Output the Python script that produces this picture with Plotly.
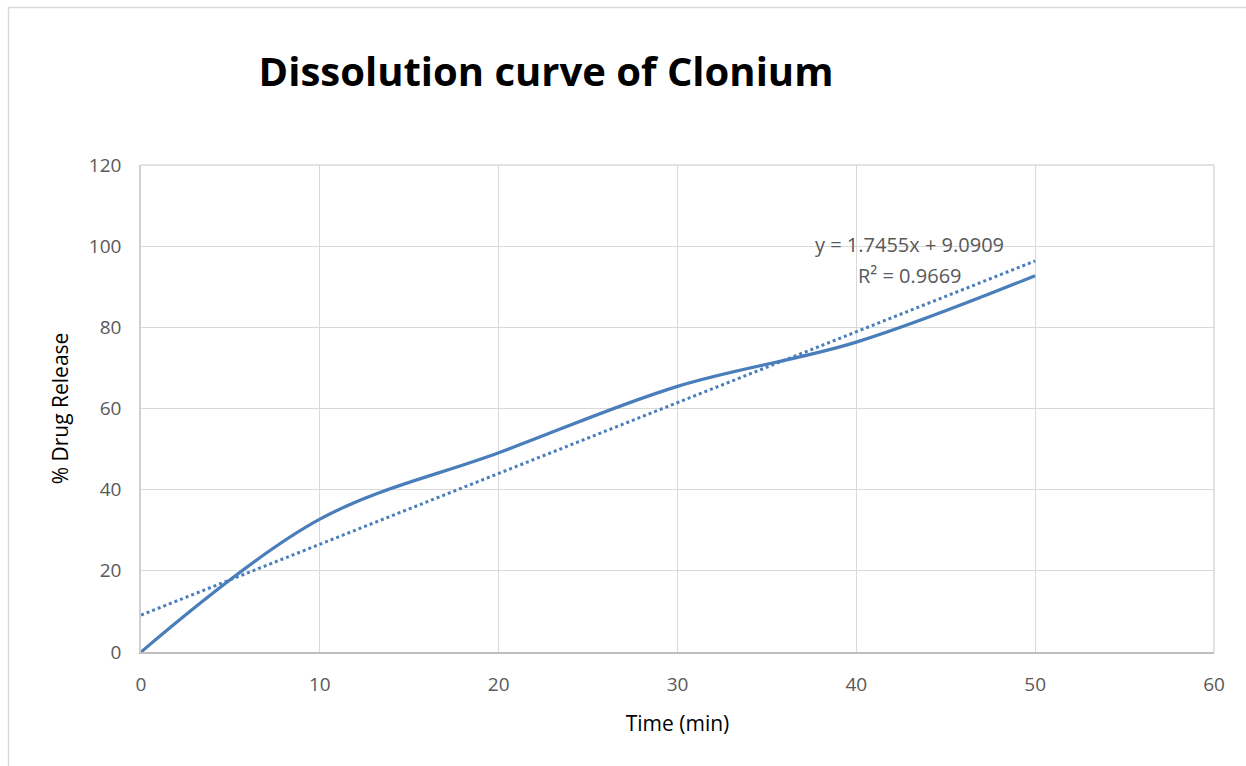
import plotly.graph_objects as go

time_min = [0, 10, 20, 30, 40, 50]
drug_release = [0, 32.73, 49.09, 65.45, 76.36, 92.73]
x_ticks = [0, 10, 20, 30, 40, 50, 60]
y_ticks = [0, 20, 40, 60, 80, 100, 120]
trend_slope = 1.7455
trend_intercept = 9.0909
trend_r2 = 0.9669

blue = "#4A7EBB"
fig = go.Figure()
fig.add_trace(go.Scatter(x=time_min, y=drug_release, mode="lines",
                         line=dict(color=blue, width=3.2, shape="spline", smoothing=1),
                         showlegend=False))
trend_x = [time_min[0], time_min[-1]]
fig.add_trace(go.Scatter(x=trend_x, y=[trend_slope * t + trend_intercept for t in trend_x],
                         mode="lines", line=dict(color=blue, width=3, dash="dot"),
                         showlegend=False))

ann_font = dict(family="Open Sans", size=20, color="#595959")
fig.add_annotation(x=43.0, y=100.5, xref="x", yref="y",
                   text=f"y = {trend_slope:.4f}x + {trend_intercept:.4f}",
                   showarrow=False, font=ann_font, yanchor="middle")
fig.add_annotation(x=43.0, y=92.8, xref="x", yref="y",
                   text=f"R² = {trend_r2:.4f}",
                   showarrow=False, font=ann_font, yanchor="middle")

fig.update_layout(
    width=1246, height=766,
    margin=dict(l=141, r=32, t=165, b=114),
    paper_bgcolor="white", plot_bgcolor="white",
    title=dict(text="<b>Dissolution curve of Clonium</b>", x=546 / 1246, xanchor="center",
               y=1 - 72 / 766, yanchor="middle",
               font=dict(family="Open Sans", size=40, color="black")),
    font=dict(family="Open Sans", color="#595959", size=16),
    xaxis=dict(range=[0, 60], tickvals=x_ticks, showgrid=True, gridcolor="#D9D9D9", gridwidth=1,
               showline=True, linecolor="#BFBFBF", linewidth=1.5, zeroline=False, ticks="",
               tickfont=dict(size=19, color="#595959"),
               title=dict(text="Time (min)", font=dict(size=21, color="black"), standoff=21)),
    yaxis=dict(range=[0, 120], tickvals=y_ticks, showgrid=True, gridcolor="#D9D9D9", gridwidth=1,
               showline=True, linecolor="#D0D0D0", linewidth=1.5, zeroline=False, ticks="",
               tickfont=dict(size=19, color="#595959"),
               title=dict(text="% Drug Release", font=dict(size=21, color="black"), standoff=15)),
)
fig.update_yaxes(ticklabelstandoff=14)
fig.update_xaxes(ticklabelstandoff=14)

# plot-area top and right edges
fig.add_shape(type="line", xref="paper", yref="paper", x0=0, x1=1, y0=1, y1=1,
              line=dict(color="#D9D9D9", width=1.5), layer="below")
fig.add_shape(type="line", xref="paper", yref="paper", x0=1, x1=1, y0=0, y1=1,
              line=dict(color="#D9D9D9", width=1.5), layer="below")
# chart border
fig.add_shape(type="rect", xref="paper", yref="paper",
              x0=(8.5 - 141) / 1073, x1=1.2, y0=-0.5, y1=(652 - 7.5) / 487,
              line=dict(color="#D9D9D9", width=1.5), fillcolor="rgba(0,0,0,0)", layer="below")

fig.write_html("out.html")
